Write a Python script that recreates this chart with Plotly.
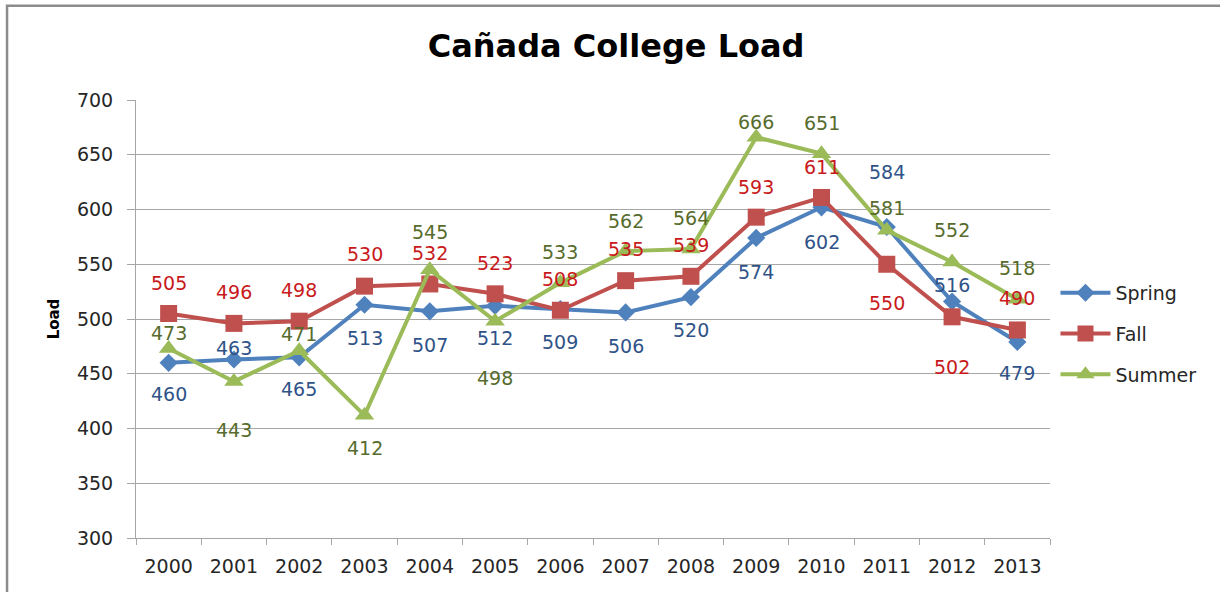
import plotly.graph_objects as go

years = ["2000", "2001", "2002", "2003", "2004", "2005", "2006",
         "2007", "2008", "2009", "2010", "2011", "2012", "2013"]
spring = [460, 463, 465, 513, 507, 512, 509, 506, 520, 574, 602, 584, 516, 479]
fall = [505, 496, 498, 530, 532, 523, 508, 535, 539, 593, 611, 550, 502, 490]
summer = [473, 443, 471, 412, 545, 498, 533, 562, 564, 666, 651, 581, 552, 518]

# where each data label sits relative to its marker (pixels, + is up)
spring_dy = [-31, 12, -32, -33, -34, -32, -33, -34, -33, -34, -35, 55, 16, -31]
fall_dy = [31, 31, 31, 32, 31, 31, 31, 32, 31, 30, 30, -39, -50, 32]
summer_dy = [16, -49, 17, -33, 38, -57, 31, 30, 31, 15, 31, 22, 32, 31]

FONT = "DejaVu Sans"
GRID = "#A6A6A6"

series = [
    # name, values, line color, label color, symbol, size, offsets
    ("Spring", spring, "#4F81BD", "#2F5388", "diamond", 14, spring_dy),
    ("Fall", fall, "#C0504D", "#C8191B", "square", 17, fall_dy),
    ("Summer", summer, "#9BBB59", "#566B2C", "triangle-up", 17, summer_dy),
]

fig = go.Figure()
annotations = []
for name, vals, col, lab_col, sym, msize, dys in series:
    fig.add_trace(go.Scatter(
        x=years, y=vals, name=name, mode="lines+markers",
        line=dict(color=col, width=4),
        marker=dict(symbol=sym, size=msize, color=col),
        legendgroup=name, cliponaxis=False,
    ))
    # category index, since "2000" would be read as position 2000
    for i, (v, dy) in enumerate(zip(vals, dys)):
        annotations.append(dict(
            x=i, y=v, text=str(v), showarrow=False,
            xanchor="center", yanchor="middle", yshift=dy,
            font=dict(family=FONT, size=19, color=lab_col),
        ))

fig.update_layout(
    width=1220, height=592,
    margin=dict(l=136, r=170, t=100, b=54),
    paper_bgcolor="white", plot_bgcolor="white",
    title=dict(text="Cañada College Load", xref="container", yref="container",
               x=0.505, y=0.922, xanchor="center", yanchor="middle",
               font=dict(family=FONT, size=32, color="black", weight="bold")),
    annotations=annotations,
    legend=dict(x=1.006, y=0.466, xanchor="left", yanchor="middle",
                traceorder="grouped", tracegroupgap=13, itemwidth=50,
                font=dict(family=FONT, size=19, color="#262626")),
    shapes=[dict(type="rect", xref="paper", yref="paper",
                 x0=-0.1411, x1=1.6, y0=-0.6, y1=1.215,
                 line=dict(color="#8C8C8C", width=2.5), layer="below")],
)

fig.update_yaxes(
    range=[300, 700], dtick=50, showgrid=True, gridcolor=GRID, gridwidth=1,
    showline=True, linecolor=GRID, ticks="outside", ticklen=8, tickcolor=GRID,
    zeroline=False, ticklabelstandoff=10, automargin=False,
    tickfont=dict(family=FONT, size=19, color="#262626"),
    title=dict(text="Load", standoff=13,
               font=dict(family=FONT, size=15, color="black", weight="bold")),
)
fig.update_xaxes(
    type="category", range=[-0.5, len(years) - 0.5], tickangle=0,
    tickson="boundaries", ticks="outside", ticklen=6,
    tickcolor=GRID, showline=True, linecolor=GRID, showgrid=False,
    ticklabelstandoff=11, automargin=False,
    tickfont=dict(family=FONT, size=19, color="#262626"),
)

fig.write_html("out.html", config={"displayModeBar": False},
               post_script="document.body.style.margin='0';")
